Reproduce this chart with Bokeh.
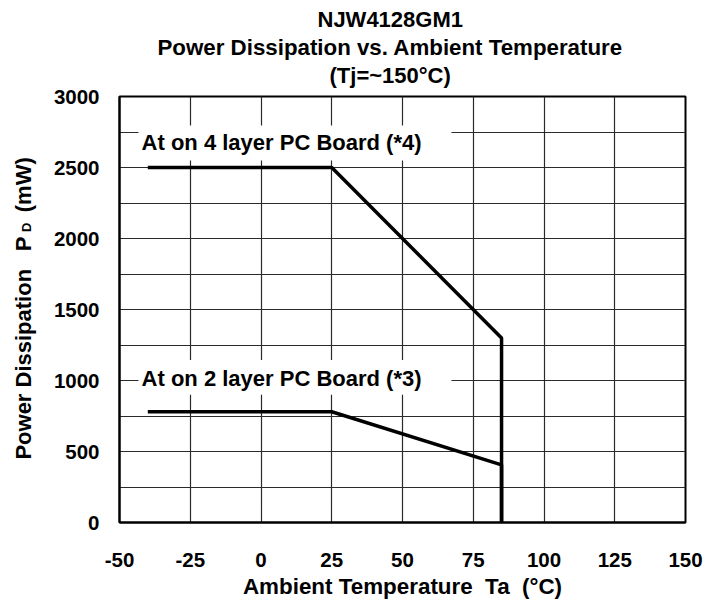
from math import pi
from bokeh.plotting import figure
from bokeh.layouts import row
from bokeh.models import Range1d, FixedTicker, Title
from bokeh.core.properties import value
from bokeh.embed import file_html
from bokeh.resources import INLINE

# ---- data ----
temp_4layer = [-40, 25, 85, 85]
pd_4layer = [2500, 2500, 1300, 0]
temp_2layer = [-40, 25, 85, 85]
pd_2layer = [780, 780, 406, 0]

x_ticks = [-50, -25, 0, 25, 50, 75, 100, 125, 150]
y_ticks = [0, 500, 1000, 1500, 2000, 2500, 3000]
y_grid_ticks = [0, 250, 500, 750, 1000, 1250, 1500, 1750, 2000, 2250, 2500, 2750, 3000]

note_texts = ["At on 4 layer PC Board (*4)", "At on 2 layer PC Board (*3)"]
title_lines = ["NJW4128GM1", "Power Dissipation vs. Ambient Temperature", "(Tj=~150°C)"]
x_label = "Ambient Temperature\u00a0 Ta\u00a0 (°C)"
y_label_parts = ["Power Dissipation", "P", "D", "(mW)"]

FONT = "Liberation Sans"

# ---- main plot ----
p = figure(width=656, height=601, output_backend="svg", toolbar_location=None,
           x_range=Range1d(-50, 150), y_range=Range1d(0, 3000),
           min_border_left=71, min_border_right=19, min_border_top=96,
           min_border_bottom=78)
p.background_fill_color = "white"
p.border_fill_color = "white"
p.outline_line_color = "black"
p.outline_line_width = 2

# small spacer between the plot and the title block
p.add_layout(Title(text=" ", text_font_size="5px", standoff=0), "above")
# stacked title lines (first added sits closest to the plot)
for txt, off, size, so in [(title_lines[2], 210, "22px", 1),
                           (title_lines[1], 38, "22.3px", 1),
                           (title_lines[0], 198, "22px", 1)]:
    p.add_layout(Title(text=txt, align="left", offset=off, standoff=so,
                       text_font=FONT, text_font_size=size, text_font_style="bold",
                       text_color="black"), "above")

for ax in (p.xaxis[0], p.yaxis[0]):
    ax.major_tick_in = 0
    ax.major_tick_out = 0
    ax.minor_tick_in = 0
    ax.minor_tick_out = 0
    ax.axis_line_color = "black"
    ax.axis_line_width = 2
    ax.major_label_text_font = FONT
    ax.major_label_text_font_style = "bold"
    ax.major_label_text_font_size = "20.5px"
    ax.major_label_text_color = "black"

p.xaxis.ticker = FixedTicker(ticks=x_ticks)
p.yaxis.ticker = FixedTicker(ticks=y_ticks)
p.xaxis.major_label_overrides = {-50: "-50", -25: "-25"}
p.xaxis.major_label_standoff = 30
p.yaxis.major_label_standoff = 20
p.xaxis.axis_label = x_label
p.xaxis.axis_label_text_font = FONT
p.xaxis.axis_label_text_font_style = "bold"
p.xaxis.axis_label_text_font_size = "22.4px"
p.xaxis.axis_label_text_color = "black"
p.xaxis.axis_label_standoff = 4

p.xgrid.ticker = FixedTicker(ticks=x_ticks)
p.ygrid.ticker = FixedTicker(ticks=y_grid_ticks)
for g in (p.xgrid[0], p.ygrid[0]):
    g.grid_line_color = "#2a2a2a"
    g.grid_line_width = 1.2
    g.grid_line_alpha = 1.0

# white boxes behind the notes
p.quad(left=[-43.3, -43.3], right=[67.3, 67.3], bottom=[2550, 900], top=[2796, 1145],
       fill_color="white", line_color=None)

# curves
p.line(temp_4layer, pd_4layer, line_color="black", line_width=3.5)
p.line(temp_2layer, pd_2layer, line_color="black", line_width=3.5)

# notes
p.text(x=[-42.2, -42.2], y=[2674, 1015], text=note_texts, text_align="left",
       text_baseline="alphabetic", text_font=value(FONT), text_font_style="bold",
       text_font_size="22px", text_color="black")

# ---- y axis title strip (same vertical scale as the main plot) ----
left = figure(width=48, height=601, output_backend="svg", toolbar_location=None,
              x_range=Range1d(0, 48), y_range=Range1d(0, 3000),
              x_axis_location=None, y_axis_location=None,
              min_border_left=0, min_border_right=0, min_border_top=96,
              min_border_bottom=78)
left.outline_line_color = None
left.background_fill_color = "white"
left.border_fill_color = "white"
left.grid.visible = False
left.text(x=[22.5, 22.5, 22.5], y=[443, 1911, 2185],
          text=[y_label_parts[0], y_label_parts[1], y_label_parts[3]],
          angle=pi / 2, text_align="left", text_baseline="alphabetic",
          text_font=value(FONT), text_font_style="bold", text_font_size="22px",
          text_color="black")
left.text(x=[25.5], y=[2045], text=[y_label_parts[2]], angle=pi / 2, text_align="left",
          text_baseline="alphabetic", text_font=value(FONT), text_font_style="bold",
          text_font_size="13px", text_color="black")

layout = row(left, p)
open("out.html", "w").write(file_html(layout, INLINE))
